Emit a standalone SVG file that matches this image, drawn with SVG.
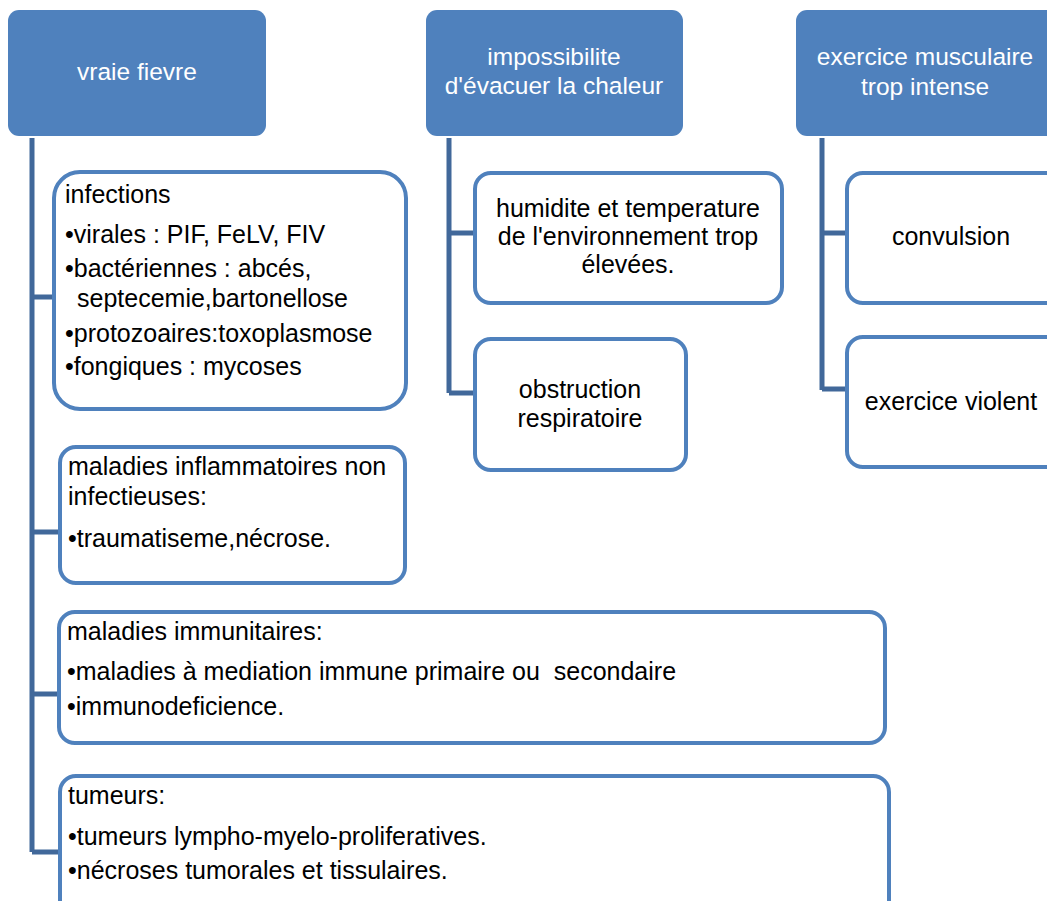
<svg xmlns="http://www.w3.org/2000/svg" width="1047" height="901" viewBox="0 0 1047 901">
  <style>
    .head rect { fill: #4F81BD; stroke: none; }
    .head text { fill: #FFFFFF; font-family: "Liberation Sans", Arial, sans-serif; font-size: 24.5px; text-anchor: middle; }
    .box rect { fill: #FFFFFF; stroke: #4F81BD; stroke-width: 4; }
    .box text { fill: #000000; font-family: "Liberation Sans", Arial, sans-serif; font-size: 25px; }
    .box text.c { text-anchor: middle; }
    .links path { fill: none; stroke: #41689A; stroke-width: 5; }
  </style>

  <!-- tree connectors -->
  <g class="links">
    <path d="M32,138 V852 M32,297 H54 M32,532 H60 M32,694 H59 M32,852 H60"/>
    <path d="M449,138 V393 M449,233 H475 M449,393 H475"/>
    <path d="M822,138 V390 M822,233 H847 M822,389 H847"/>
  </g>

  <!-- column 1 -->
  <g id="vraie-fievre" class="head">
    <rect x="8" y="10" width="258" height="126" rx="11"/>
    <text x="137" y="80">vraie fievre</text>
  </g>
  <g id="infections" class="box">
    <rect x="54" y="172" width="352" height="237" rx="26"/>
    <text x="65" y="203">infections</text>
    <text x="65" y="243">•virales : PIF, FeLV, FIV</text>
    <text x="65" y="277">•bactériennes : abcés,</text>
    <text x="77" y="307">septecemie,bartonellose</text>
    <text x="65" y="342">•protozoaires:toxoplasmose</text>
    <text x="65" y="375">•fongiques : mycoses</text>
  </g>
  <g id="inflammatoires" class="box">
    <rect x="60" y="447" width="345" height="136" rx="16"/>
    <text x="68" y="475">maladies inflammatoires non</text>
    <text x="68" y="505">infectieuses:</text>
    <text x="68" y="547">•traumatiseme,nécrose.</text>
  </g>
  <g id="immunitaires" class="box">
    <rect x="59" y="612" width="826" height="131" rx="16"/>
    <text x="67" y="640">maladies immunitaires:</text>
    <text x="67" y="680" xml:space="preserve">•maladies à mediation immune primaire ou  secondaire</text>
    <text x="67" y="715">•immunodeficience.</text>
  </g>
  <g id="tumeurs" class="box">
    <rect x="60" y="776" width="829" height="140" rx="16"/>
    <text x="68" y="804">tumeurs:</text>
    <text x="68" y="845">•tumeurs lympho-myelo-proliferatives.</text>
    <text x="68" y="879">•nécroses tumorales et tissulaires.</text>
  </g>

  <!-- column 2 -->
  <g id="impossibilite" class="head">
    <rect x="426" y="10" width="257" height="126" rx="11"/>
    <text x="554" y="65">impossibilite</text>
    <text x="554" y="94">d'évacuer la chaleur</text>
  </g>
  <g id="humidite" class="box">
    <rect x="475" y="173" width="307" height="130" rx="16"/>
    <text class="c" x="628" y="217">humidite et temperature</text>
    <text class="c" x="628" y="245">de l'environnement trop</text>
    <text class="c" x="628" y="273">élevées.</text>
  </g>
  <g id="obstruction" class="box">
    <rect x="475" y="339" width="211" height="131" rx="16"/>
    <text class="c" x="580" y="398">obstruction</text>
    <text class="c" x="580" y="427">respiratoire</text>
  </g>

  <!-- column 3 -->
  <g id="exercice-musculaire" class="head">
    <rect x="796" y="10" width="270" height="126" rx="11"/>
    <text x="925" y="65">exercice musculaire</text>
    <text x="925" y="95">trop intense</text>
  </g>
  <g id="convulsion" class="box">
    <rect x="847" y="173" width="220" height="130" rx="16"/>
    <text class="c" x="951" y="245">convulsion</text>
  </g>
  <g id="exercice-violent" class="box">
    <rect x="847" y="337" width="220" height="130" rx="16"/>
    <text class="c" x="951" y="410">exercice violent</text>
  </g>
</svg>
